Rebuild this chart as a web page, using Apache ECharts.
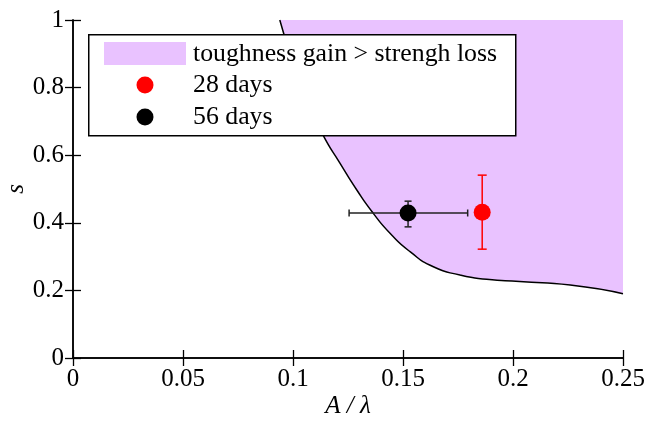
<!DOCTYPE html>
<html>
<head>
<meta charset="utf-8">
<script src="https://cdn.jsdelivr.net/npm/echarts@6/dist/echarts.min.js"></script>
<style>
html,body{margin:0;padding:0;background:#fff;}
#chart{width:648px;height:427px;}
</style>
</head>
<body>
<div id="chart"></div>
<script>
// Boundary curve (A/λ, s)
const boundaryX = [0.0940, 0.1023, 0.1073, 0.1136, 0.1214, 0.1290, 0.1365, 0.1441, 0.1532, 0.1638, 0.1759, 0.1880, 0.2030, 0.2260, 0.2500];
const boundaryS = [1.000, 0.830, 0.750, 0.660, 0.576, 0.497, 0.428, 0.369, 0.3145, 0.270, 0.2456, 0.2328, 0.226, 0.216, 0.190];
// Measured points
const day28 = {x: 0.186, s: 0.431, xLow: 0.186, xHigh: 0.186, sLow: 0.322, sHigh: 0.541};
const day56 = {x: 0.1523, s: 0.429, xLow: 0.1255, xHigh: 0.1794, sLow: 0.388, sHigh: 0.464};
const xTicks = [0, 0.05, 0.1, 0.15, 0.2, 0.25];
const yTicks = [0, 0.2, 0.4, 0.6, 0.8, 1];
const names = ['toughness gain > strengh loss', '28 days', '56 days'];

const FONT = '"Liberation Serif", "Times New Roman", Times, serif';
const FILL = '#e9c2ff';

const chart = echarts.init(document.getElementById('chart'), null, {renderer: 'canvas'});

function errRender(color, capW) {
  return function (params, api) {
    const x = api.value(0), y = api.value(1);
    const xl = api.value(2), xh = api.value(3), yl = api.value(4), yh = api.value(5);
    const children = [];
    const style = {stroke: color, lineWidth: 1.5};
    const pLow = api.coord([x, yl]), pHigh = api.coord([x, yh]);
    if (yl !== yh) {
      children.push({type: 'line', shape: {x1: pLow[0], y1: pLow[1], x2: pHigh[0], y2: pHigh[1]}, style});
      children.push({type: 'line', shape: {x1: pLow[0] - capW, y1: pLow[1], x2: pLow[0] + capW, y2: pLow[1]}, style});
      children.push({type: 'line', shape: {x1: pHigh[0] - capW, y1: pHigh[1], x2: pHigh[0] + capW, y2: pHigh[1]}, style});
    }
    if (xl !== xh) {
      const a = api.coord([xl, y]), b = api.coord([xh, y]);
      children.push({type: 'line', shape: {x1: a[0], y1: a[1], x2: b[0], y2: b[1]}, style});
      children.push({type: 'line', shape: {x1: a[0], y1: a[1] - capW, x2: a[0], y2: a[1] + capW}, style});
      children.push({type: 'line', shape: {x1: b[0], y1: b[1] - capW, x2: b[0], y2: b[1] + capW}, style});
    }
    return {type: 'group', children};
  };
}

const axisLine = {show: true, lineStyle: {color: '#000', width: 1.5}};
const tickStyle = {show: true, inside: true, length: 8, lineStyle: {color: '#000', width: 1.3}};
const labelStyle = {fontFamily: FONT, fontSize: 25, color: '#000'};
const legendFont = 25.8;

const option = {
  animation: false,
  backgroundColor: '#fff',
  grid: {left: 73, right: 25, top: 20, bottom: 69, containLabel: false, outerBoundsMode: 'none'},
  xAxis: [
    {type: 'value', min: xTicks[0], max: xTicks[xTicks.length - 1], interval: 0.05,
     axisLine, axisTick: tickStyle, splitLine: {show: false},
     axisLabel: Object.assign({margin: 9, formatter: v => String(+v.toFixed(2))}, labelStyle),
     name: 'A / λ', nameLocation: 'middle', nameGap: 36, nameMoveOverlap: false,
     nameTextStyle: {fontFamily: FONT, fontSize: 25, fontStyle: 'italic', color: '#000'}},
    {type: 'value', position: 'top', min: 0, max: 0.25, interval: 0.05,
     axisLine, axisTick: tickStyle, axisLabel: {show: false}, splitLine: {show: false}}
  ],
  yAxis: [
    {type: 'value', min: yTicks[0], max: yTicks[yTicks.length - 1], interval: 0.2,
     axisLine, axisTick: tickStyle, splitLine: {show: false},
     axisLabel: Object.assign({margin: 9, formatter: v => String(+v.toFixed(1))}, labelStyle),
     name: 's', nameLocation: 'middle', nameGap: 44, nameRotate: 90, nameMoveOverlap: false,
     nameTextStyle: {fontFamily: FONT, fontSize: 25, fontStyle: 'italic', color: '#000'}},
    {type: 'value', position: 'right', min: 0, max: 1, interval: 0.2,
     axisLine, axisTick: tickStyle, axisLabel: {show: false}, splitLine: {show: false}}
  ],
  graphic: [
    {type: 'rect', left: 88, top: 34, z: 10, shape: {width: 427, height: 101},
     style: {fill: '#fff', stroke: '#000', lineWidth: 1.5}},
    {type: 'rect', left: 104, top: 42, z: 11, shape: {width: 82, height: 23},
     style: {fill: FILL}},
    {type: 'circle', z: 11, shape: {cx: 145, cy: 85, r: 8.5}, style: {fill: '#ff0000'}},
    {type: 'circle', z: 11, shape: {cx: 145, cy: 117, r: 8.5}, style: {fill: '#000'}},
    {type: 'text', z: 11, x: 193, y: 54,
     style: {text: names[0], font: legendFont + 'px ' + FONT, fill: '#000', verticalAlign: 'middle'}},
    {type: 'text', z: 11, x: 193, y: 85,
     style: {text: names[1], font: legendFont + 'px ' + FONT, fill: '#000', verticalAlign: 'middle'}},
    {type: 'text', z: 11, x: 193, y: 117,
     style: {text: names[2], font: legendFont + 'px ' + FONT, fill: '#000', verticalAlign: 'middle'}}
  ],
  series: [
    {name: names[0], type: 'line', smooth: 0.6, symbol: 'none',
     data: boundaryX.map((x, i) => [x, boundaryS[i]]),
     lineStyle: {color: '#000', width: 1.5},
     itemStyle: {color: FILL},
     areaStyle: {origin: 'end', color: FILL, opacity: 1}, z: 1},
    {type: 'custom', renderItem: errRender('#222', 3.5), z: 5,
     data: [[day56.x, day56.s, day56.xLow, day56.xHigh, day56.sLow, day56.sHigh]]},
    {type: 'custom', renderItem: errRender('#ff0000', 4.5), z: 5,
     data: [[day28.x, day28.s, day28.xLow, day28.xHigh, day28.sLow, day28.sHigh]]},
    {name: names[1], type: 'scatter', symbol: 'circle', symbolSize: 17, z: 6,
     itemStyle: {color: '#ff0000', opacity: 1}, data: [[day28.x, day28.s]]},
    {name: names[2], type: 'scatter', symbol: 'circle', symbolSize: 17, z: 6,
     itemStyle: {color: '#000', opacity: 1}, data: [[day56.x, day56.s]]}
  ]
};
chart.setOption(option);
</script>
</body>
</html>
